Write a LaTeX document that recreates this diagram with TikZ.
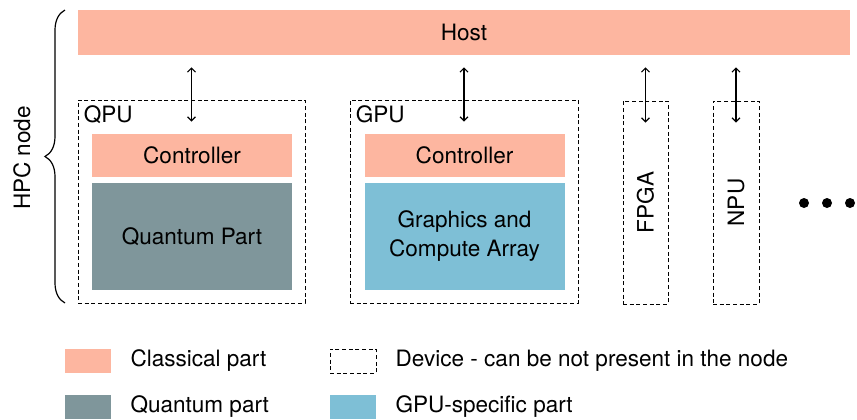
\documentclass[tikz,border=0pt]{standalone}
\usepackage{fontspec}
\setmainfont{TeX Gyre Heros}
\usetikzlibrary{positioning,arrows.meta,decorations.pathreplacing}

\definecolor{classical}{RGB}{253,182,160}
\definecolor{quantum}{RGB}{127,150,155}
\definecolor{gpupart}{RGB}{126,191,214}

\begin{document}
\begin{tikzpicture}[x = 0.75pt, y = -0.75pt,
    every node/.style = {font = \fontsize{16.9}{21.75}\selectfont, inner sep = 0pt},
    part/.style = {shape = rectangle, minimum width = 150pt},
    device/.style = {shape = rectangle, draw, dash pattern = on 3pt off 2pt, line width = 0.6pt},
    link/.style = {<->, >={Straight Barb[length = 3pt, width = 6pt]}, line width = 0.9pt},
    swatch/.style = {shape = rectangle, minimum width = 34.5pt, minimum height = 18pt}]
    \useasboundingbox (0,0) rectangle (857,419);

    \node[part, fill = classical, minimum width = 579pt, minimum height = 33.75pt] (host) at (464,32.5) {Host};

    % devices
    \node[device, minimum width = 170.25pt, minimum height = 152.25pt] (qpu) at (191.5,201.5) {};
    \node[device, minimum width = 171pt, minimum height = 152.25pt] (gpu) at (464,201.5) {};
    \node[device, minimum width = 33.75pt, minimum height = 152.25pt] (fpga) at (645.5,202.5) {};
    \node[device, minimum width = 34.5pt, minimum height = 152.25pt] (npu) at (736,202.5) {};

    \node[anchor = base west] (qpuLabel) at ([xshift = 4.5pt, yshift = -17.25pt]qpu.north west) {QPU};
    \node[anchor = base west] (gpuLabel) at ([xshift = 4.5pt, yshift = -17.25pt]gpu.north west) {GPU};
    \node[rotate = 90] (fpgaLabel) at (fpga) {FPGA};
    \node[rotate = 90] (npuLabel) at (npu) {NPU};

    \node[part, fill = classical, minimum height = 32.25pt] (qpuCtrl) at (192,155.5) {Controller};
    \node[part, fill = quantum, minimum height = 80.25pt] (qpuCore) at (192,236.5) {Quantum Part};
    \node[part, fill = classical, minimum height = 32.25pt] (gpuCtrl) at (464.5,155.5) {Controller};
    \node[part, fill = gpupart, minimum height = 80.25pt, align = center] (gpuCore) at (464.5,236.5) {Graphics and\\Compute Array};

    \foreach \d in {qpu,gpu,fpga,npu}
        \draw[link] ([yshift = -9pt]host.south -| \d.north) -- ([yshift = -16.5pt]\d.north);

    \foreach \x in {804,827,850}
        \fill (\x,203) circle (3.75pt);

    % HPC node brace
    \coordinate (braceLow) at (65,303);
    \coordinate (braceHigh) at (65,10);
    \draw[decorate, decoration = {brace, amplitude = 15pt}, line width = 0.9pt] (braceLow) -- (braceHigh);
    \node[rotate = 90] (hpcLabel) at (22,158) {HPC node};

    % legend
    \node[swatch, fill = classical] (keyClassical) at (88,361) {};
    \node[right = 14.25pt of keyClassical] (txtClassical) {Classical part};
    \node[swatch, device] (keyDevice) at (353,361) {};
    \node[right = 14.25pt of keyDevice] (txtDevice) {Device - can be not present in the node};
    \node[swatch, fill = quantum] (keyQuantum) at (88,406.5) {};
    \node[right = 14.25pt of keyQuantum] (txtQuantum) {Quantum part};
    \node[swatch, fill = gpupart] (keyGpu) at (353,406.5) {};
    \node[right = 14.25pt of keyGpu] (txtGpu) {GPU-specific part};
\end{tikzpicture}
\end{document}
